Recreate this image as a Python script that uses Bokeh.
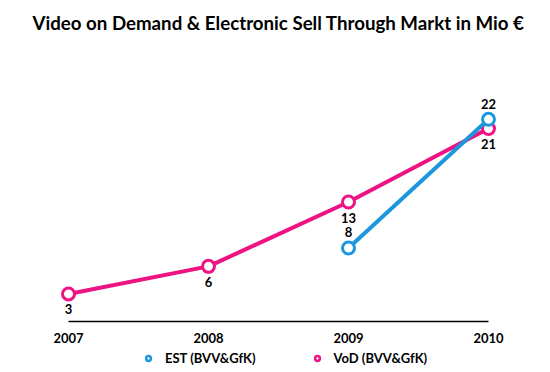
from bokeh.plotting import figure
from bokeh.layouts import column
from bokeh.models import Range1d, FixedTicker, Legend, LegendItem, ColumnDataSource, Title
from bokeh.core.properties import value
from bokeh.embed import file_html
from bokeh.resources import INLINE

years = [2007, 2008, 2009, 2010]
vod_years = [2007, 2008, 2009, 2010]
vod_values = [3, 6, 13, 21]
est_years = [2009, 2010]
est_values = [8, 22]
tick_labels = ["2007", "2008", "2009", "2010"]
series_labels = ["EST (BVV&GfK)", "VoD (BVV&GfK)"]

PINK = "#EE1282"
BLUE = "#1D97DB"
FONT = "Lato"

p = figure(width=534, height=345, output_backend="svg", toolbar_location=None,
           x_range=Range1d(2006.7, 2010.3), y_range=Range1d(0, 28.4),
           min_border_left=26, min_border_right=4, min_border_top=60, min_border_bottom=24)
# spacer between title and plot area
p.add_layout(Title(text=" ", text_font_size="1px", standoff=24), "above")
p.title.text = "Video on Demand & Electronic Sell Through Markt in Mio €"
p.title.text_font = FONT
p.title.text_font_size = "18.7px"
p.title.text_font_style = "bold"
p.title.text_color = "black"
p.title.align = "center"
p.title.standoff = 0
p.outline_line_color = None
p.grid.visible = False
p.yaxis.visible = False

xa = p.xaxis[0]
xa.ticker = FixedTicker(ticks=years)
xa.major_label_overrides = {y: l for y, l in zip(years, tick_labels)}
xa.bounds = (2007, 2010)
xa.major_tick_line_color = None
xa.minor_tick_line_color = None
xa.axis_line_color = "black"
xa.axis_line_width = 1.5
xa.major_label_text_font = FONT
xa.major_label_text_font_style = "bold"
xa.major_label_text_font_size = "13px"
xa.major_label_text_color = "black"
xa.major_label_standoff = 5

vod_src = ColumnDataSource(dict(x=vod_years, y=vod_values, t=[str(v) for v in vod_values]))
est_src = ColumnDataSource(dict(x=est_years, y=est_values, t=[str(v) for v in est_values]))

p.line("x", "y", source=vod_src, line_color=PINK, line_width=4)
p.scatter("x", "y", source=vod_src, size=12, fill_color="white", line_color=PINK, line_width=3)
p.line("x", "y", source=est_src, line_color=BLUE, line_width=4)
p.scatter("x", "y", source=est_src, size=12, fill_color="white", line_color=BLUE, line_width=3)

p.text("x", "y", text="t", source=vod_src, y_offset=15.5, text_align="center", text_baseline="middle",
       text_font=value(FONT), text_font_style="bold", text_font_size="13px", text_color="black")
p.text("x", "y", text="t", source=est_src, y_offset=-15.5, text_align="center", text_baseline="middle",
       text_font=value(FONT), text_font_style="bold", text_font_size="13px", text_color="black")

# legend strip (series glyphs lie outside its visible range; only the legend shows)
lp = figure(width=534, height=27, output_backend="svg", toolbar_location=None,
            x_range=Range1d(0, 1), y_range=Range1d(0, 1),
            min_border_left=0, min_border_right=0, min_border_top=0, min_border_bottom=0)
lp.axis.visible = False
lp.grid.visible = False
lp.outline_line_color = None
est_leg = lp.scatter("x", "y", source=est_src, size=8, fill_color="white", line_color=BLUE, line_width=2.5)
vod_leg = lp.scatter("x", "y", source=vod_src, size=8, fill_color="white", line_color=PINK, line_width=2.5)

legend = Legend(items=[LegendItem(label=series_labels[0], renderers=[est_leg]),
                       LegendItem(label=series_labels[1], renderers=[vod_leg])],
                orientation="horizontal", location=(116, 6), border_line_color=None,
                background_fill_alpha=0, label_text_font=FONT, label_text_font_style="bold",
                label_text_font_size="13px", label_text_color="black", spacing=55,
                glyph_width=12, glyph_height=12, label_standoff=11, padding=2, margin=0)
lp.add_layout(legend, "center")

open("out.html", "w").write(file_html(column(p, lp, spacing=0), INLINE))
